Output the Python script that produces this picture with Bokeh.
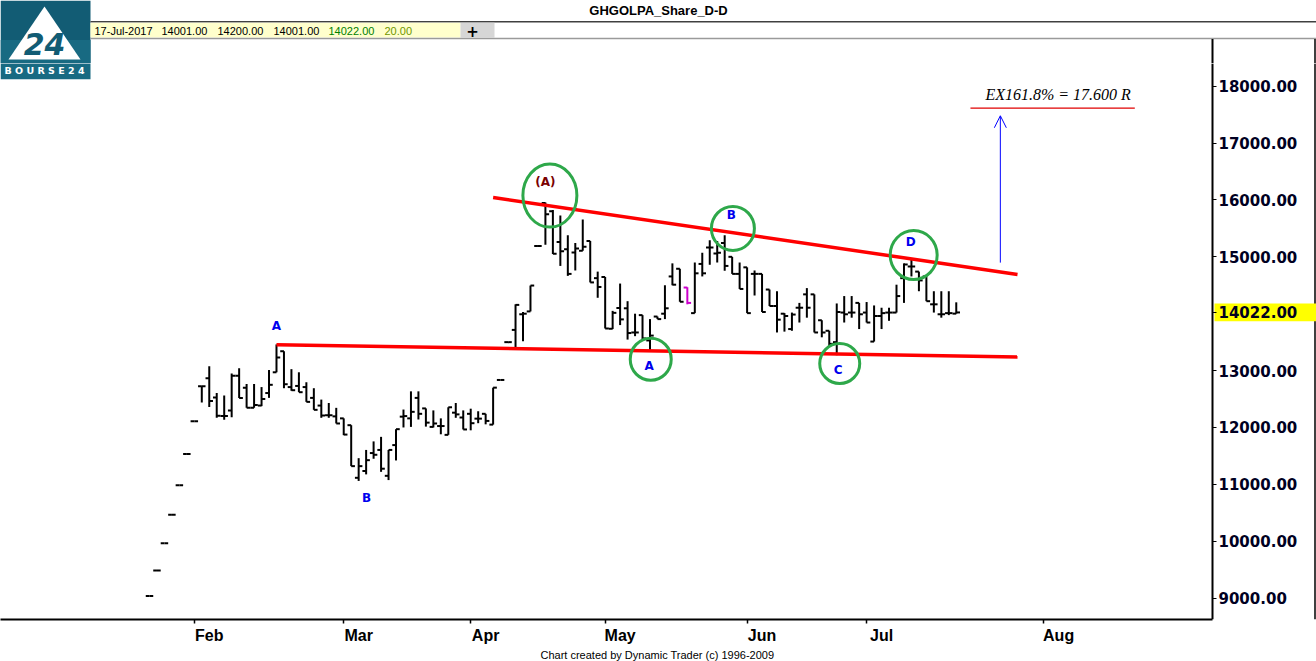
import numpy as np
from bokeh.plotting import figure
from bokeh.layouts import column
from bokeh.models import (Range1d, FixedTicker, PrintfTickFormatter, Arrow, Title,
                          OpenHead, ColumnDataSource)
from bokeh.core.properties import value
from bokeh.embed import file_html
from bokeh.resources import INLINE

# ---------------- data (daily OHLC, GHGOLPA) ----------------
opens = [9035, 9485, 9965, 10465, 10985, 11535, 12110, 12725, 12865, 12525,
         12200, 12300, 12910, 12700, 12345, 12385, 12605, 12970, 13340, 12710,
         12730, 12710, 12520, 12385, 12215, 12195, 12160, 12040, 11115, 11235,
         11550, 11605, 11150, 11690, 12190, 12160, 12520, 12335, 12010, 12025,
         11870, 12260, 12175, 12240, 12155, 12240, 12050, 12835, 13500, 13715,
         13990, 14040, 15190, 15945, 15800, 15260, 15135, 15075, 15105, 15280,
         14625, 14645, 13735, 14100, 14095, 13670, 13975, 13530, 13950, 14000,
         14655, 14790, 14460, 14010, 14875, 15165, 15060, 15245, 15000, 14700,
         14815, 14700, 14700, 14425, 14135, 14000, 13730, 14105, 14340, 14340,
         13885, 13700, 13500, 14020, 14020, 14190, 14020, 13510, 13960, 14020,
         14020, 14625, 14830, 14740, 14655, 14165, 13990, 14010, 14001]
highs = [9035, 9485, 9965, 10465, 10985, 11535, 12110, 12725, 13075, 12605,
         12560, 12950, 13040, 12765, 12765, 12710, 13010, 13460, 13340, 13025,
         12970, 12795, 12690, 12490, 12430, 12345, 12160, 12040, 11460, 11605,
         11755, 11835, 11605, 11970, 12315, 12635, 12635, 12335, 12300, 12160,
         12355, 12430, 12300, 12330, 12285, 12240, 12700, 12835, 13500, 14165,
         14030, 14495, 15190, 15955, 15825, 15725, 15380, 15245, 15655, 15280,
         14740, 14645, 14050, 14530, 14220, 14000, 13975, 13905, 13950, 14500,
         14885, 14790, 14465, 14900, 15070, 15290, 15280, 15380, 15000, 14900,
         14815, 14760, 14700, 14425, 14395, 14010, 14020, 14190, 14450, 14340,
         13885, 13700, 14180, 14310, 14310, 14190, 14205, 14145, 14105, 14105,
         14510, 14885, 14945, 14740, 14655, 14395, 14395, 14395, 14200]
lows = [9035, 9485, 9965, 10465, 10985, 11535, 12110, 12440, 12360, 12170,
        12135, 12180, 12520, 12345, 12345, 12375, 12520, 12970, 12690, 12645,
        12620, 12450, 12310, 12170, 12170, 12070, 11865, 11320, 11060, 11175,
        11450, 11220, 11075, 11420, 12000, 12010, 12140, 12015, 12000, 11880,
        11870, 12170, 11965, 11950, 12075, 12055, 12050, 12835, 13500, 13365,
        13515, 14040, 15190, 15210, 15050, 14840, 14665, 14760, 15105, 14550,
        14280, 13740, 13730, 13800, 13545, 13605, 13525, 13355, 13905, 13905,
        14500, 14210, 14165, 14010, 14655, 14860, 14900, 14755, 14700, 14435,
        14010, 14320, 14030, 14135, 13670, 13685, 13700, 13845, 13930, 13670,
        13585, 13415, 13270, 13845, 13930, 13730, 13845, 13510, 13730, 13875,
        14020, 14190, 14655, 14395, 14220, 14020, 13930, 13975, 14001]
closes = [9035, 9485, 9965, 10465, 10985, 11535, 12110, 12725, 12465, 12205,
          12200, 12910, 12520, 12345, 12395, 12500, 12750, 13230, 12760, 12655,
          12620, 12450, 12310, 12210, 12215, 12070, 11875, 11320, 11320, 11425,
          11520, 11275, 11605, 11970, 12200, 12275, 12240, 12085, 12070, 12025,
          12355, 12230, 11965, 12075, 12155, 12115, 12700, 12835, 13500, 14155,
          14000, 14495, 15190, 15750, 15055, 15100, 14700, 15145, 15175, 14550,
          14470, 13740, 14015, 13900, 13660, 13670, 13565, 13615, 13905, 14095,
          14510, 14210, 14190, 14710, 14710, 15165, 15070, 14840, 14700, 14435,
          14010, 14700, 14030, 14135, 13895, 13960, 13985, 14105, 14105, 13670,
          13670, 13470, 14030, 13990, 14020, 13990, 13845, 13960, 14010, 14020,
          14310, 14865, 14830, 14585, 14220, 14165, 13990, 14010, 14022]
highlight_bar = 72          # one bar drawn in magenta in the original

month_names = ["Feb", "Mar", "Apr", "May", "Jun", "Jul", "Aug"]
month_pos = [6, 26, 43, 61, 80, 96, 119.7]
price_ticks = [9000, 10000, 11000, 12000, 13000, 15000, 16000, 17000, 18000]
last_close = 14022.00

support_x = [17.0, 116.2]
support_y = [13454, 13239]
resist_x = [46.0, 116.2]
resist_y = [16042, 14690]

wave_text = ["A", "B", "(A)", "A", "B", "C", "D"]
wave_x = [17.0, 29.05, 53.0, 66.9, 77.9, 92.2, 101.9]
wave_y = [13789, 10756, 16319, 13078, 15730, 13009, 15262]
wave_col = ["#0000EE", "#0000EE", "#7A0000", "#0000EE", "#0000EE", "#0000EE", "#0000EE"]

circle_x = [53.6, 78.1, 67.1, 92.4, 102.3]
circle_y = [16076, 15499, 13199, 13125, 15031]
circle_w = [54, 43, 41, 40, 47]
circle_h = [63, 44, 42, 40, 49]

target_text = "EX161.8% = 17.600 R"
target_x = 111.9
target_y = 17861
target_line_x = [109.9, 131.9]
target_line_y = [17613, 17613]
arrow_x = 113.9
arrow_y = [14898, 17480]

info_date = "17-Jul-2017"
info_vals = ["14001.00", "14200.00", "14001.00", "14022.00", "20.00"]

# ---------------- geometry ----------------
BAR_PX = 7.47            # pixels per trading day
PX_PRICE = 17.331        # price units per pixel
PAGE_W = 1316
HEAD_H = 64              # header strip height (page pixels)
AXIS_PX = 1212           # where the price axis sits
X0 = -149 / BAR_PX
X1 = X0 + PAGE_W / BAR_PX
X_AXIS = X0 + AXIS_PX / BAR_PX
Y_TOP = 18000 + (87 - HEAD_H) * PX_PRICE
Y_BOT = 18000 - (628 - 87) * PX_PRICE


def px_x(px):
    return X0 + px / BAR_PX


def px_y(py):
    return 18000 - (py - 87) * PX_PRICE


# ---------------- header ----------------
h = figure(frame_width=PAGE_W, frame_height=HEAD_H, x_range=Range1d(0, PAGE_W),
           y_range=Range1d(HEAD_H, 0), output_backend="svg", toolbar_location=None,
           min_border=0, x_axis_location=None, y_axis_location=None, title_location=None)
h.outline_line_color = None
h.xgrid.visible = False
h.ygrid.visible = False

# logo (upper part)
h.quad(left=[0], right=[90], top=[0], bottom=[HEAD_H], fill_color="#125C74", line_color=None)
h.quad(left=[0], right=[90], top=[40], bottom=[HEAD_H], fill_color="#186A82", line_color=None)
h.patch([44, 8, 80], [6, 60, 60], fill_color="white", line_color=None)
h.text(x=[44], y=[44], text=["24"], text_color="#125C74", text_font=value("DejaVu Sans"),
       text_font_style="bold italic", text_font_size="30px", text_align="center",
       text_baseline="middle")

# title & info strip
h.text(x=[658], y=[10.5], text=["GHGOLPA_Share_D-D"], text_color="black",
       text_font=value("Liberation Sans"), text_font_style="bold", text_font_size="13px",
       text_align="center", text_baseline="middle")
h.line([90, PAGE_W], [21.5, 21.5], line_color="#404040", line_width=1.5)
h.quad(left=[90], right=[460], top=[22.5], bottom=[37.5], fill_color="#FFFFCC", line_color=None)
h.quad(left=[460], right=[494], top=[22.5], bottom=[37.5], fill_color="#D6D6D6", line_color=None)
h.text(x=[472], y=[30.5], text=["+"], text_color="black", text_font=value("DejaVu Sans"),
       text_font_style="bold", text_font_size="15px", text_align="center", text_baseline="middle")
info_x = [94, 161, 217, 273, 328, 384]
info_txt = [info_date] + info_vals
info_col = ["black", "black", "black", "black", "#008000", "#6E9600"]
h.text(x=info_x, y=[30.5] * 6, text=info_txt, text_color=info_col,
       text_font=value("Liberation Sans"), text_font_size="11px",
       text_align="left", text_baseline="middle")
h.line([90, PAGE_W], [38.5, 38.5], line_color="#9A9A9A", line_width=1.5)
h.line([AXIS_PX, AXIS_PX], [39, HEAD_H], line_color="black", line_width=2)
h.line([1314.5, 1314.5], [39, HEAD_H], line_color="black", line_width=1.5)

# ---------------- main chart ----------------
p = figure(frame_width=PAGE_W, frame_height=628 - HEAD_H, x_range=Range1d(X0, X1),
           y_range=Range1d(Y_BOT, Y_TOP), y_axis_location="right",
           output_backend="svg", toolbar_location=None, title_location=None,
           min_border_left=0, min_border_top=0, min_border_right=0, min_border_bottom=33)
p.outline_line_color = None
p.xgrid.visible = False
p.ygrid.visible = False
p.background_fill_color = "white"

# logo (lower part)
p.quad(left=[px_x(0)], right=[px_x(90)], top=[Y_TOP], bottom=[px_y(80)],
       fill_color="#186A82", line_color=None)
p.text(x=[px_x(44)], y=[px_y(71)], text=["B O U R S E 2 4"], text_color="white",
       text_font=value("DejaVu Sans"), text_font_style="bold", text_font_size="9.5px",
       text_align="center", text_baseline="middle")

# right border of the price panel and yellow last-price tag
p.line([px_x(1314.5)] * 2, [Y_BOT, Y_TOP], line_color="black", line_width=1.5)
p.quad(left=[px_x(1214)], right=[X1], bottom=[last_close - 9 * PX_PRICE],
       top=[last_close + 9 * PX_PRICE], fill_color="#FFFF00", line_color=None)

idx = np.arange(len(opens))
cols = ["black"] * len(opens)
cols[highlight_bar] = "#CC00CC"
src = ColumnDataSource(dict(x=idx, xl=idx - 0.5, xr=idx + 0.5, o=opens, h=highs,
                            l=lows, c=closes, col=cols))
p.segment(x0="x", y0="l", x1="x", y1="h", line_color="col", line_width=2, source=src)
p.segment(x0="xl", y0="o", x1="x", y1="o", line_color="col", line_width=2, source=src)
p.segment(x0="x", y0="c", x1="xr", y1="c", line_color="col", line_width=2, source=src)

# trend lines
p.line(support_x, support_y, line_color="#FF0000", line_width=3.5)
p.line(resist_x, resist_y, line_color="#FF0000", line_width=3.5)

# circles and wave labels
p.ellipse(x=circle_x, y=circle_y, width=circle_w, height=circle_h,
          width_units="screen", height_units="screen",
          fill_color=None, line_color="#2EA84A", line_width=3)
wsrc = ColumnDataSource(dict(x=wave_x, y=wave_y, t=wave_text, c=wave_col))
p.text(x="x", y="y", text="t", text_color="c", source=wsrc,
       text_font=value("DejaVu Sans"), text_font_style="bold", text_font_size="12px",
       text_align="center", text_baseline="middle")

# target
p.line(target_line_x, target_line_y, line_color="#E00000", line_width=1.3)
p.text(x=[target_x], y=[target_y], text=[target_text], text_color="black",
       text_font=value("Liberation Serif"), text_font_style="italic", text_font_size="16px",
       text_align="left", text_baseline="middle")
p.add_layout(Arrow(end=OpenHead(size=12, line_color="#0000FF", line_width=1),
                   x_start=arrow_x, y_start=arrow_y[0], x_end=arrow_x, y_end=arrow_y[1],
                   line_color="#0000FF", line_width=1))

# y axis: drawn at the price-panel edge, labels pointing right
yax = p.yaxis[0]
yax.fixed_location = X_AXIS
yax.bounds = (Y_BOT, px_y(40))
yax.ticker = FixedTicker(ticks=sorted(price_ticks + [last_close]))
yax.formatter = PrintfTickFormatter(format="%.2f")
yax.major_label_text_font = "DejaVu Sans"
yax.major_label_text_font_style = "bold"
yax.major_label_text_font_size = "15px"
yax.major_label_text_color = "#000022"
yax.major_tick_out = 4
yax.major_tick_in = 0
yax.minor_tick_line_color = None
yax.axis_line_width = 2
yax.major_label_standoff = 2

# x axis (labels left-aligned after month tick)
xax = p.xaxis[0]
xax.bounds = (X0, X_AXIS)
label_pos = [m + 2.0 for m in month_pos]
xax.ticker = FixedTicker(ticks=label_pos, minor_ticks=month_pos)
xax.major_label_overrides = {lp: nm for lp, nm in zip(label_pos, month_names)}
xax.major_tick_line_color = None
xax.major_tick_out = 0
xax.major_tick_in = 0
xax.minor_tick_out = 4
xax.minor_tick_in = 0
xax.minor_tick_line_color = "black"
xax.minor_tick_line_width = 1.5
xax.axis_line_width = 2
xax.major_label_text_font = "Liberation Sans"
xax.major_label_text_font_style = "bold"
xax.major_label_text_font_size = "16px"
xax.major_label_text_color = "black"
xax.major_label_standoff = 3

# footer
p.add_layout(Title(text="Chart created by Dynamic Trader  (c) 1996-2009", align="left",
                   offset=540, standoff=0, text_font="Liberation Sans",
                   text_font_size="11px", text_font_style="normal",
                   text_color="black"), "below")

layout = column(h, p, spacing=0, width=PAGE_W, height=661, sizing_mode="fixed",
                styles={"overflow": "hidden"})
open("out.html", "w").write(file_html(layout, INLINE))
